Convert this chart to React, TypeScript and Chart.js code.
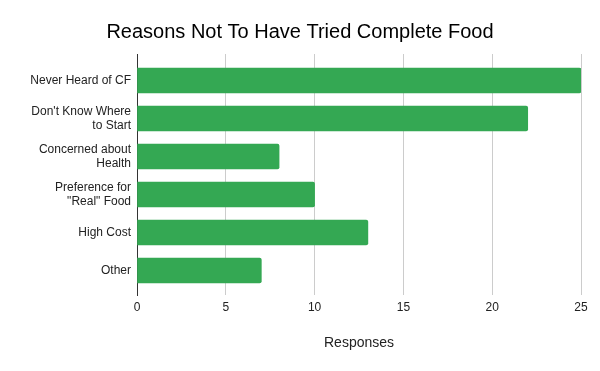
import React, { useEffect, useRef } from "react";
import { Chart, registerables } from "chart.js";

Chart.register(...registerables);

const chartTitle = "Reasons Not To Have Tried Complete Food";
const categories: (string | string[])[] = [
  "Never Heard of CF",
  ["Don't Know Where", "to Start"],
  ["Concerned about", "Health"],
  ["Preference for", "\"Real\" Food"],
  "High Cost",
  "Other",
];
const responses = [25, 22, 8, 10, 13, 7];
const xTitle = "Responses";
const xMin = 0;
const xMax = 25;
const xStep = 5;

const FONT = "'Liberation Sans', Arial, sans-serif";

export default function App() {
  const ref = useRef<HTMLCanvasElement | null>(null);

  useEffect(() => {
    document.body.style.margin = "0";
    const canvas = ref.current;
    if (!canvas) return;
    const chart = new Chart(canvas, {
      type: "bar",
      data: {
        datasets: [
          {
            data: responses.map((v, i) => ({ x: v, y: i })),
            backgroundColor: "#34A853",
            borderWidth: 0,
            borderRadius: 2,
            barThickness: 25,
          },
        ],
      },
      options: {
        indexAxis: "y",
        animation: false,
        responsive: true,
        maintainAspectRatio: false,
        layout: { padding: { left: 19, right: 19, top: 0, bottom: 0 } },
        plugins: {
          legend: { display: false },
          tooltip: { enabled: false },
          title: {
            display: true,
            text: chartTitle,
            color: "#000",
            font: { family: FONT, size: 20, weight: "normal", lineHeight: 1.2 },
            padding: { top: 20.5, bottom: 9.5 },
          },
        },
        scales: {
          x: {
            type: "linear",
            position: "bottom",
            min: xMin,
            max: xMax,
            ticks: {
              stepSize: xStep,
              color: "#222",
              padding: 5.5,
              font: { family: FONT, size: 12 },
            },
            grid: { color: "#cccccc", drawTicks: false, lineWidth: 1 },
            border: { display: false },
            title: {
              display: true,
              text: xTitle,
              color: "#222",
              font: { family: FONT, size: 14, lineHeight: 1.2 },
              padding: { top: 0, bottom: 19 },
            },
            afterFit: (scale: any) => {
              scale.height = 76;
            },
          },
          y: {
            type: "linear",
            reverse: true,
            offset: false,
            min: -0.697,
            max: 5.645,
            ticks: {
              stepSize: 1,
              includeBounds: false,
              autoSkip: false,
              color: "#222",
              padding: 6,
              font: { family: FONT, size: 12, lineHeight: 1.15 },
              callback: (value: any) => {
                const idx = Math.round(Number(value));
                if (Math.abs(Number(value) - idx) > 1e-6) return "";
                return categories[idx] ?? "";
              },
            },
            grid: { display: false, drawTicks: false, offset: false },
            border: { display: true, color: "#333", width: 1 },
            afterFit: (scale: any) => {
              scale.width = 118;
            },
          },
        },
      },
    } as any);
    return () => chart.destroy();
  }, []);

  return (
    <div style={{ position: "relative", width: 600, height: 371 }}>
      <canvas ref={ref} />
    </div>
  );
}
